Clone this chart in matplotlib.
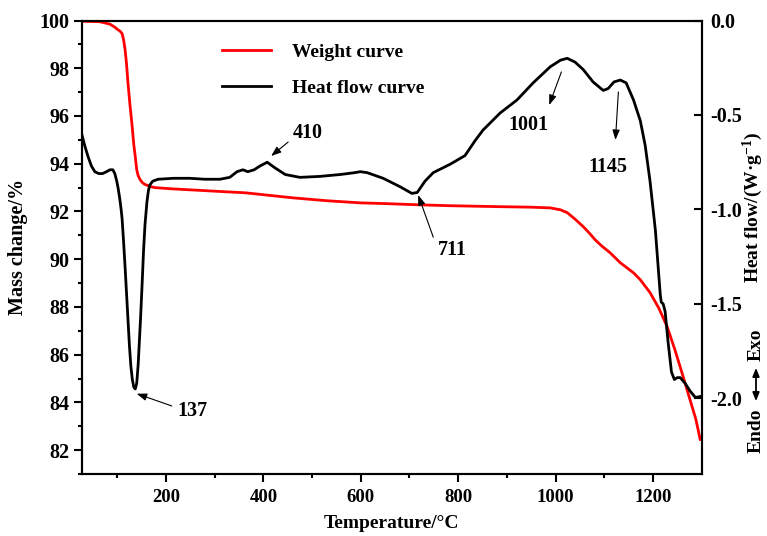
import matplotlib
matplotlib.use("Agg")
import matplotlib.pyplot as plt
from matplotlib.lines import Line2D
from matplotlib.patches import FancyArrowPatch

# weight (TG) curve, left axis
temp_w = [27, 64, 85, 95, 101, 106, 110, 113, 116, 119, 122, 126, 130, 134, 137, 140, 143,
          147, 152, 157, 167, 177, 210, 255, 300, 364, 410, 461, 530, 599, 650, 716, 784, 886,
          948, 989, 1010, 1024, 1040, 1057, 1070, 1081, 1095, 1112, 1133, 1160, 1174, 1194,
          1212, 1229, 1245, 1262, 1276, 1288, 1297]
mass = [99.97, 99.95, 99.85, 99.72, 99.62, 99.55, 99.45, 99.2, 98.8, 98.2, 97.4, 96.5, 95.7,
        94.8, 94.3, 93.75, 93.5, 93.33, 93.2, 93.13, 93.05, 93.0, 92.95, 92.9, 92.85, 92.78,
        92.68, 92.57, 92.45, 92.36, 92.33, 92.28, 92.24, 92.2, 92.18, 92.15, 92.07, 91.95,
        91.68, 91.36, 91.08, 90.82, 90.55, 90.27, 89.85, 89.43, 89.14, 88.6, 87.95, 87.18,
        86.21, 85.08, 84.12, 83.3, 82.45]

# heat flow (DSC) curve, right axis
temp_h = [27, 33, 40, 47, 54, 62, 70, 78, 85, 91, 95, 99, 102, 105, 108, 110, 113, 116, 119,
          122, 125, 128, 131, 134, 137, 140, 143, 145, 148, 151, 154, 157, 161, 164, 167, 173,
          184, 215, 249, 280, 311, 331, 346, 358, 368, 381, 393, 408, 424, 445, 475, 516, 558,
          588, 599, 613, 646, 681, 705, 716, 732, 749, 784, 814, 835, 851, 886, 921, 954, 989,
          1010, 1024, 1040, 1057, 1077, 1098, 1108, 1120, 1133, 1145, 1160, 1174, 1184, 1194,
          1205, 1215, 1217, 1221, 1225, 1231, 1238, 1244, 1250, 1256, 1266, 1276, 1287, 1297]
heat = [-0.60, -0.66, -0.72, -0.77, -0.80, -0.81, -0.81, -0.80, -0.79, -0.79, -0.81, -0.85,
        -0.89, -0.94, -1.00, -1.05, -1.17, -1.30, -1.44, -1.58, -1.72, -1.83, -1.90, -1.94,
        -1.95, -1.92, -1.82, -1.72, -1.57, -1.40, -1.22, -1.08, -0.96, -0.90, -0.87, -0.85,
        -0.84, -0.835, -0.835, -0.84, -0.84, -0.83, -0.80, -0.79, -0.80, -0.79, -0.77, -0.75,
        -0.78, -0.815, -0.83, -0.825, -0.815, -0.805, -0.80, -0.805, -0.835, -0.88, -0.915,
        -0.91, -0.85, -0.805, -0.76, -0.715, -0.635, -0.58, -0.49, -0.42, -0.33, -0.245,
        -0.21, -0.20, -0.22, -0.26, -0.325, -0.37, -0.36, -0.325, -0.315, -0.33, -0.42,
        -0.53, -0.66, -0.85, -1.11, -1.45, -1.49, -1.50, -1.54, -1.70, -1.86, -1.90, -1.89,
        -1.89, -1.92, -1.96, -1.995, -1.99]

# peak labels: (text, arrow head temp, head value, tail temp, tail value, text temp, text value)
peaks = [
    ("137", 140, -1.975, 212, -2.04, 255, -2.065),
    ("410", 416, -0.717, 451, -0.643, 492, -0.596),
    ("711", 718, -0.924, 749, -1.147, 788, -1.216),
    ("1001", 987, -0.447, 1012, -0.272, 944, -0.553),
    ("1145", 1123, -0.632, 1129, -0.378, 1108, -0.776),
]

FONT = "Liberation Serif"
plt.rcParams.update({
    "font.family": FONT,
    "font.weight": "bold",
    "mathtext.fontset": "custom",
    "mathtext.rm": FONT + ":bold",
    "mathtext.bf": FONT + ":bold",
    "mathtext.default": "bf",
    "axes.linewidth": 1.5,
})

fig = plt.figure(figsize=(7.67, 5.36), dpi=100, facecolor="white")
ax = fig.add_axes([0.1065, 0.1157, 0.8083, 0.846])
ax2 = ax.twinx()

ax.plot(temp_w, mass, color="#ff0000", lw=2.0, zorder=3)
ax2.plot(temp_h, heat, color="black", lw=2.0, zorder=3)

ax.set_xlim(27, 1300)
ax.set_ylim(81, 100)
ax2.set_ylim(-2.4, 0.0)

ax.set_xticks([200, 400, 600, 800, 1000, 1200])
ax.set_xticks(range(100, 1300, 100), minor=True)
ax.set_yticks(range(82, 101, 2))
ax.set_yticks(range(81, 101, 1), minor=True)
ax2.set_yticks([-2.0, -1.5, -1.0, -0.5, 0.0])
ax2.set_yticklabels(["-2.0", "-1.5", "-1.0", "-0.5", "0.0"])

ax.tick_params(axis="x", which="major", direction="out", length=6, width=1.5, labelsize=13.5, pad=5)
ax.tick_params(axis="x", which="minor", direction="out", length=3, width=1.5)
ax.tick_params(axis="y", which="major", direction="out", length=6, width=1.5, labelsize=14.5, pad=3)
ax.tick_params(axis="y", which="minor", direction="out", length=3, width=1.5)
ax2.tick_params(axis="y", which="major", direction="in", length=6, width=1.5, labelsize=14.5, pad=6)

ax.set_xlabel("Temperature/\u00b0C", fontsize=14, fontweight="bold", labelpad=6)
ax.set_ylabel("Mass change/%", fontsize=14.5, fontweight="bold", labelpad=8)

fig.text(753 / 767, 1 - 207 / 536, "Heat flow/(W\u00b7g$^{-1}$)", rotation=90,
         ha="center", va="center", fontsize=14, fontweight="bold")
fig.text(756 / 767, 1 - 431 / 536, "Endo", rotation=90, ha="center", va="center",
         fontsize=14, fontweight="bold")
fig.text(756 / 767, 1 - 345 / 536, "Exo", rotation=90, ha="center", va="center",
         fontsize=14, fontweight="bold")
fig.add_artist(FancyArrowPatch(
    (756 / 767, 1 - 404 / 536), (756 / 767, 1 - 365 / 536), transform=fig.transFigure,
    arrowstyle="<|-|>,head_length=5,head_width=2", lw=1.3, color="black", mutation_scale=1))

for label, hx, hy, tx, ty, lx, ly in peaks:
    ax2.annotate("", xy=(hx, hy), xytext=(tx, ty),
                 arrowprops=dict(arrowstyle="-|>,head_length=0.6,head_width=0.22",
                                 color="black", lw=0.8, shrinkA=0, shrinkB=0))
    ax2.text(lx, ly, label, ha="center", va="center", fontsize=14.5, fontweight="bold")

handles = [Line2D([], [], color="#ff0000", lw=2.0), Line2D([], [], color="black", lw=2.0)]
leg = ax.legend(handles, ["Weight curve", "Heat flow curve"], frameon=False, loc="upper left",
                bbox_to_anchor=(222 / 767, 1 - 43 / 536), bbox_transform=fig.transFigure,
                borderpad=0, borderaxespad=0, handlelength=2.5, handletextpad=1.1,
                labelspacing=0.95, fontsize=14)
for t in leg.get_texts():
    t.set_fontweight("bold")

fig.savefig("out.png", dpi=100, facecolor="white")
